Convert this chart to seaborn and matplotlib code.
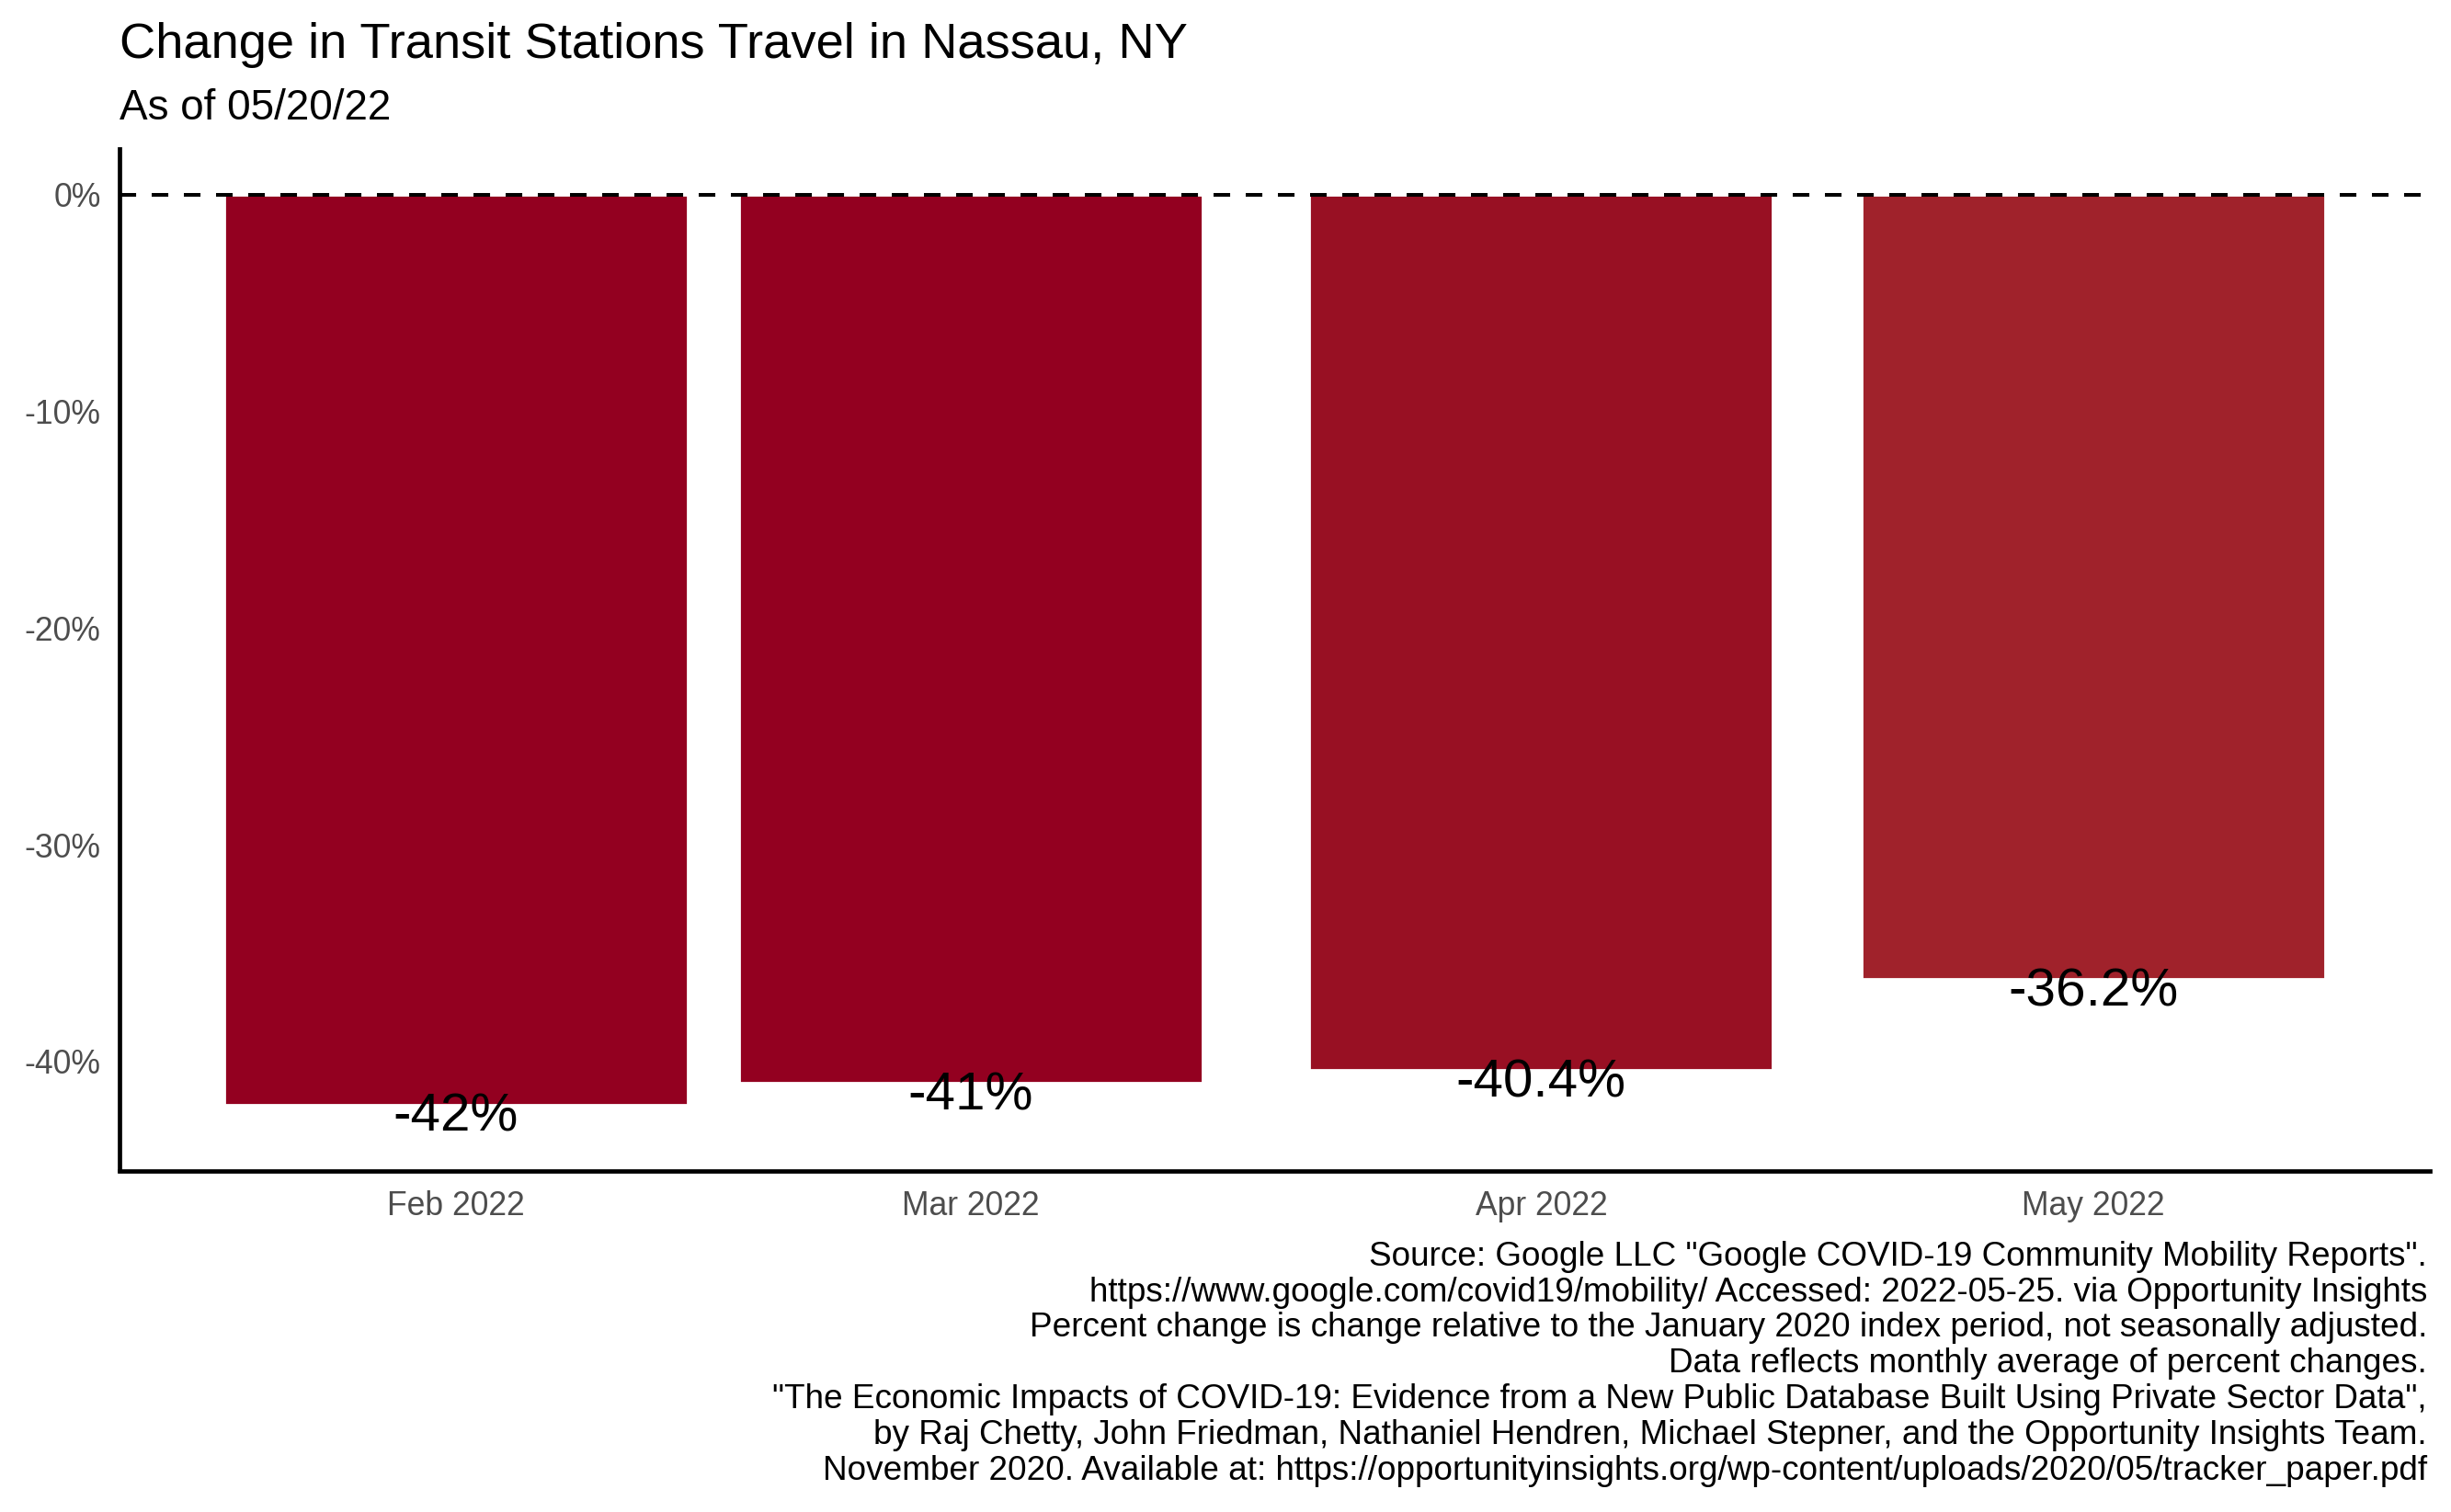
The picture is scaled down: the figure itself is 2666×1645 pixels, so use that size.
import pandas as pd
import seaborn as sns
import matplotlib.pyplot as plt
import matplotlib.dates as mdates

months = ["2022-02-01", "2022-03-01", "2022-04-01", "2022-05-01"]
month_labels = ["Feb 2022", "Mar 2022", "Apr 2022", "May 2022"]
pct_change = [-42.0, -41.0, -40.4, -36.2]
bar_labels = ["-42%", "-41%", "-40.4%", "-36.2%"]
bar_colors = ["#930020", "#930020", "#981023", "#A0222B"]
y_ticks = [0, -10, -20, -30, -40]
y_tick_labels = ["0%", "-10%", "-20%", "-30%", "-40%"]

title = "Change in Transit Stations Travel in Nassau, NY"
subtitle = "As of 05/20/22"
caption_lines = [
    'Source: Google LLC "Google COVID-19 Community Mobility Reports".',
    "https://www.google.com/covid19/mobility/ Accessed: 2022-05-25. via Opportunity Insights",
    "Percent change is change relative to the January 2020 index period, not seasonally adjusted.",
    "Data reflects monthly average of percent changes.",
    '"The Economic Impacts of COVID-19: Evidence from a New Public Database Built Using Private Sector Data",',
    "by Raj Chetty, John Friedman, Nathaniel Hendren, Michael Stepner, and the Opportunity Insights Team.",
    "November 2020. Available at: https://opportunityinsights.org/wp-content/uploads/2020/05/tracker_paper.pdf",
]

sns.set_style("white")
plt.rcParams["font.family"] = ["Liberation Sans", "DejaVu Sans"]
plt.rcParams["text.color"] = "black"

df = pd.DataFrame({
    "date": mdates.date2num(pd.to_datetime(months)),
    "month": month_labels,
    "pct": pct_change,
})

W, H, DPI = 2666, 1645, 200
fig = plt.figure(figsize=(W / DPI, H / DPI), dpi=DPI)
ax = fig.add_axes([129.5 / W, 1 - 1273.5 / H, (2643 - 129.5) / W, (1273.5 - 162) / H])

# bar width 0.9 of the smallest gap between months, like ggplot's date bars
sns.barplot(data=df, x="date", y="pct", hue="month", palette=dict(zip(month_labels, bar_colors)),
            native_scale=True, width=0.9, saturation=1, legend=False, errorbar=None, ax=ax)

ax.axhline(0, color="black", lw=1.45, ls=(0, (6.5 / 1.45, 6.1 / 1.45)), zorder=3)

for xv, yv, lab in zip(df["date"], df["pct"], bar_labels):
    ax.text(xv, yv - 1.22, lab, ha="center", va="baseline", fontsize=21, color="black")

ax.set_xlim(df["date"].min() - 18.31, df["date"].max() + 18.31)
ax.set_ylim(-45.03, 2.12)
ax.set_xticks(df["date"])
ax.set_xticklabels(month_labels)
ax.set_yticks(y_ticks)
ax.set_yticklabels(y_tick_labels)
ax.set_xlabel("")
ax.set_ylabel("")

for s in ["top", "right"]:
    ax.spines[s].set_visible(False)
for s in ["left", "bottom"]:
    ax.spines[s].set_color("black")
    ax.spines[s].set_linewidth(1.7)
ax.tick_params(axis="both", length=4, width=1.5, color="#333333", labelcolor="#4D4D4D", labelsize=12.8)
ax.tick_params(axis="x", pad=3.8)
ax.tick_params(axis="y", pad=3.2)

fig.text(130 / W, 1 - 63 / H, title, fontsize=19.6, va="baseline", ha="left", color="black")
fig.text(130 / W, 1 - 130 / H, subtitle, fontsize=16.5, va="baseline", ha="left", color="black")
for i, line in enumerate(caption_lines):
    fig.text(2640 / W, 1 - (1376.7 + i * 38.8) / H, line, fontsize=13.3, va="baseline", ha="right",
             color="black")

fig.savefig("out.png", dpi=DPI)
